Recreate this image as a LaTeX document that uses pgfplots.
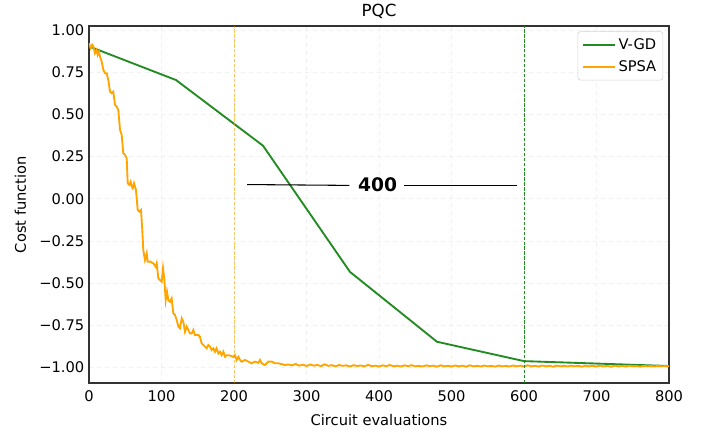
\documentclass[border=0pt]{standalone}
\usepackage{fontspec}
\setmainfont{DejaVu Sans}
\usepackage{pgfplots}
\pgfplotsset{compat=1.18}
\usetikzlibrary{calc}
\definecolor{vgd}{HTML}{228B22}
\definecolor{spsa}{HTML}{FFA500}
\begin{document}
\begin{tikzpicture}[font=\fontsize{11}{13}\selectfont]
\begin{axis}[
    scale only axis,
    width=435pt, height=267.75pt,
    xmin=0, xmax=800, ymin=-1.095, ymax=1.026,
    xtick={0,100,...,800},
    ytick={-1,-0.75,-0.5,-0.25,0,0.25,0.5,0.75,1},
    yticklabels={−1.00,−0.75,−0.50,−0.25,0.00,0.25,0.50,0.75,1.00},
    /pgf/number format/assume math mode=true,
    major tick length=0pt,
    grid=major, grid style={gray!12, dashed, line width=0.4pt},
    axis line style={black!80, line width=0.8pt},
    xlabel={Circuit evaluations}, ylabel={Cost function},
    title={PQC},
    title style={font=\fontsize{12.5}{14}\selectfont, yshift=-4pt},
    xticklabel style={yshift=-2pt},
    xlabel style={yshift=-3pt},
    ylabel style={yshift=3pt},
    legend cell align=left,
    legend style={at={(rel axis cs:0.99,0.985)}, anchor=north east, draw=gray!35, rounded corners=2pt, font=\fontsize{11}{13}\selectfont, inner sep=3pt, row sep=3pt},
    legend image code/.code={\draw[#1, line width=1.4pt] (0pt,0pt) -- (24pt,0pt);},
]
\addplot[vgd, line width=1.4pt] coordinates {
    (0,0.905) (120,0.705) (240,0.315) (360,-0.435) (480,-0.85) (600,-0.965) (800,-0.994)
};
\addlegendentry{V-GD}
\addplot[spsa, line width=1.4pt] coordinates {
(0,0.924)(2.3,0.894)(4.6,0.914)(6,0.904)(8.3,0.864)(10.6,0.884)(11.9,0.854)(13.8,0.874)(15.2,0.844)(17.5,0.815)(19.8,0.765)(22,0.745)(24.4,0.745)(26.6,0.706)(29,0.636)(31.3,0.627)(33.5,0.636)(35.9,0.557)(38.2,0.547)(40.4,0.527)(42.8,0.409)(45.1,0.379)(47.3,0.270)(49.7,0.260)(52,0.240)(53.4,0.092)(55.6,0.082)(57.5,0.101)(58.9,0.072)(60.3,0.062)(62.1,0.092)(63.4,0.072)(64.8,0.052)(67.2,-0.067)(69.4,-0.077)(71.7,-0.067)(73.5,-0.186)(74.9,-0.305)(77.2,-0.364)(79.6,-0.324)(80.9,-0.374)(84.1,-0.374)(88.7,-0.384)(92,-0.404)(93.4,-0.384)(95.6,-0.473)(97.9,-0.483)(100.3,-0.493)(102.1,-0.413)(104,-0.483)(105.8,-0.602)(107.6,-0.552)(109.4,-0.602)(111.7,-0.612)(114,-0.592)(116.3,-0.681)(118.6,-0.691)(121,-0.721)(123.3,-0.760)(125.5,-0.770)(127.9,-0.711)(130.1,-0.731)(132.4,-0.790)(134.8,-0.760)(137,-0.780)(139.3,-0.800)(141.7,-0.800)(143.9,-0.780)(146.2,-0.810)(150.8,-0.810)(153,-0.820)(155.4,-0.859)(157.7,-0.869)(160,-0.879)(162.3,-0.889)(164.6,-0.869)(166.9,-0.879)(169.2,-0.899)(171.5,-0.889)(173.8,-0.909)(176,-0.889)(178.4,-0.919)(180.7,-0.909)(183,-0.929)(185.3,-0.909)(187.6,-0.939)(190,-0.930)(192.2,-0.930)(196.8,-0.935)(199.1,-0.940)(201.4,-0.929)(203.7,-0.958)(206,-0.940)(208.3,-0.958)(210.6,-0.968)(215.2,-0.958)(219.8,-0.968)(224.4,-0.978)(229,-0.968)(233.6,-0.975)(235.9,-0.958)(238.2,-0.978)(242.8,-0.988)(247.4,-0.968)(252,-0.968)(256.6,-0.978)(261.2,-0.978)(265.7,-0.983)(270.3,-0.988)
(275,-0.985)(280,-0.99)(285,-0.982)(290,-0.992)(295,-0.986)(300,-0.994)(305,-0.985)(310,-0.992)(315,-0.988)(320,-0.995)(325,-0.984)(330,-0.993)(335,-0.989)(340,-0.996)(345,-0.988)(350,-0.993)(355,-0.99)(360,-0.997)(365,-0.989)(370,-0.994)(375,-0.991)(380,-0.996)(385,-0.987)(390,-0.995)(395,-0.992)(400,-0.997)(405,-0.99)(410,-0.995)(415,-0.988)(420,-0.996)(425,-0.992)(430,-0.997)(435,-0.99)(440,-0.995)(445,-0.989)(450,-0.996)(455,-0.993)(460,-0.997)(465,-0.99)(470,-0.995)(475,-0.992)(480,-0.998)(485,-0.99)(490,-0.996)(495,-0.993)(500,-0.997)(505,-0.991)(510,-0.996)(515,-0.992)(520,-0.998)(525,-0.99)(530,-0.996)(535,-0.993)(540,-0.997)(545,-0.991)(550,-0.996)(555,-0.993)(560,-0.998)(565,-0.991)(570,-0.996)(575,-0.993)(580,-0.997)(585,-0.991)(590,-0.996)(595,-0.992)(600,-0.997)(605,-0.99)(610,-0.996)(615,-0.993)(620,-0.997)(625,-0.991)(630,-0.996)(635,-0.993)(640,-0.998)(645,-0.992)(650,-0.996)(655,-0.993)(660,-0.997)(665,-0.992)(670,-0.996)(675,-0.993)(680,-0.998)(685,-0.992)(690,-0.996)(695,-0.993)(700,-0.997)(705,-0.992)(710,-0.996)(715,-0.994)(720,-0.998)(725,-0.992)(730,-0.996)(735,-0.994)(740,-0.997)(745,-0.992)(750,-0.996)(755,-0.994)(760,-0.998)(765,-0.993)(770,-0.996)(775,-0.994)(780,-0.997)(785,-0.993)(790,-0.996)(795,-0.994)(800,-0.996)
};
\addlegendentry{SPSA}
% threshold markers
\addplot[spsa, opacity=0.6, line width=0.6pt, dash pattern=on 2.5pt off 1.2pt, forget plot] coordinates {(200,-1.095) (200,1.026)};
\addplot[vgd, line width=0.6pt, dash pattern=on 2.5pt off 1.2pt, forget plot] coordinates {(600,-1.095) (600,1.026)};
% annotation
\draw[black, line width=0.8pt] (axis cs:218,0.084) -- (axis cs:359,0.079);
\draw[black, line width=0.8pt] (axis cs:434,0.08) -- (axis cs:590,0.08);
\node[font=\fontsize{14}{16}\selectfont\bfseries] at (axis cs:398,0.082) {400};
\coordinate (sw) at (rel axis cs:0,0);
\coordinate (ne) at (rel axis cs:1,1);
\end{axis}
\pgfresetboundingbox
\path[use as bounding box] ($(sw)+(-66.75pt,-39pt)$) rectangle ($(ne)+(30.75pt,19.5pt)$);
\end{tikzpicture}
\end{document}
